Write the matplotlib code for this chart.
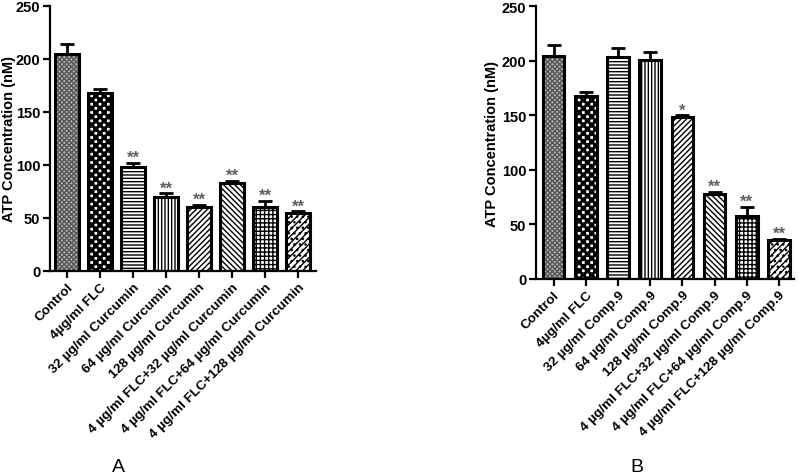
import matplotlib
matplotlib.use("Agg")
import matplotlib.pyplot as plt

plt.rcParams['font.family'] = ['Liberation Sans', 'DejaVu Sans']
plt.rcParams['hatch.linewidth'] = 1.0

# panel A - curcumin
labels_a = ["Control", "4\u00b5g/ml FLC", "32 \u00b5g/ml Curcumin", "64 \u00b5g/ml Curcumin",
            "128 \u00b5g/ml Curcumin", "4 \u00b5g/ml FLC+32 \u00b5g/ml Curcumin",
            "4 \u00b5g/ml FLC+64 \u00b5g/ml Curcumin", "4 \u00b5g/ml FLC+128 \u00b5g/ml Curcumin"]
values_a = [204, 168, 98, 70, 60, 83, 60, 55]
errors_a = [10, 3, 4, 3, 2, 2, 6, 1]
stars_a = ["", "", "**", "**", "**", "**", "**", "**"]

# panel B - compound 9
labels_b = ["Control", "4\u00b5g/ml FLC", "32 \u00b5g/ml Comp.9", "64 \u00b5g/ml Comp.9",
            "128 \u00b5g/ml Comp.9", "4 \u00b5g/ml FLC+32 \u00b5g/ml Comp.9",
            "4 \u00b5g/ml FLC+64 \u00b5g/ml Comp.9", "4 \u00b5g/ml FLC+128 \u00b5g/ml Comp.9"]
values_b = [204, 168, 203, 201, 148, 78, 58, 36]
errors_b = [10, 3, 9, 7, 2, 2, 8, 1]
stars_b = ["", "", "", "", "*", "**", "**", "**"]

# (facecolor, hatch colour, hatch) per bar position
styles = [
    ('#b4b4b4', '#555555', 'xxxxxxx'),
    ('white', 'black', '++++xxxx'),
    ('white', 'black', '-----'),
    ('white', 'black', '|||||'),
    ('white', 'black', '//////'),
    ('white', 'black', '\\\\\\\\\\\\'),
    ('white', 'black', '++++'),
    ('white', 'black', '/////...'),
]


def draw_panel(ax, labels, values, errors, stars, width, xlim, label_x):
    x = list(range(len(values)))
    for i in x:
        fc, hc, h = styles[i]
        ax.bar(i, values[i], width, color=fc, edgecolor=hc, hatch=h, linewidth=0, zorder=2)
    ax.bar(x, values, width, facecolor='none', edgecolor='black', linewidth=2.2, zorder=3)
    ax.errorbar(x, values, yerr=[[0] * len(errors), errors], fmt='none', ecolor='black',
                elinewidth=2, capsize=5, capthick=2, zorder=1)
    for i, s in enumerate(stars):
        if s:
            ax.text(i, values[i] + errors[i] - 2, s, ha='center', va='bottom',
                    fontsize=12, color='#606060', fontweight='bold')
    ax.set_xlim(*xlim)
    ax.set_ylim(0, 250)
    ax.set_yticks([0, 50, 100, 150, 200, 250])
    ax.set_xticks(x)
    ax.set_xticklabels(labels, rotation=45, ha='right', rotation_mode='anchor',
                       fontsize=9.7, fontweight='bold')
    for t in ax.get_yticklabels():
        t.set_fontweight('bold')
        t.set_fontsize(10.5)
    ax.set_ylabel("ATP Concentration (nM)", fontsize=10.5, fontweight='bold')
    ax.yaxis.set_label_coords(label_x, 0.5)
    ax.spines['top'].set_visible(False)
    ax.spines['right'].set_visible(False)
    ax.spines['left'].set_linewidth(1.6)
    ax.spines['bottom'].set_linewidth(1.6)
    ax.tick_params(width=1.6, length=5, pad=2)


fig = plt.figure(figsize=(7.99, 4.77), dpi=100)
ax1 = fig.add_axes([0.0626, 0.43, 0.333, 0.556])
ax2 = fig.add_axes([0.671, 0.413, 0.323, 0.572])

draw_panel(ax1, labels_a, values_a, errors_a, stars_a, 0.73, (-0.52, 7.55), -0.128)
draw_panel(ax2, labels_b, values_b, errors_b, stars_b, 0.67, (-0.54, 7.47), -0.143)

fig.text(118 / 799, 1 - 468 / 477, "A", ha='center', va='center', fontsize=14)
fig.text(637 / 799, 1 - 468 / 477, "B", ha='center', va='center', fontsize=14)

fig.savefig("out.png", dpi=100)
